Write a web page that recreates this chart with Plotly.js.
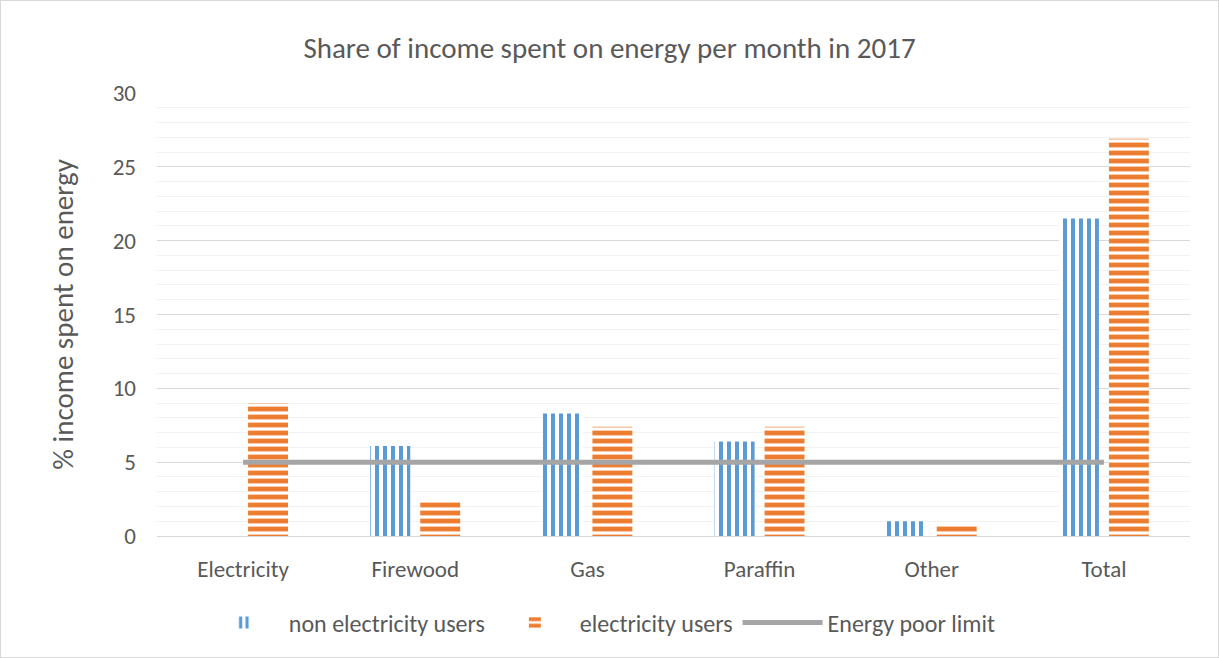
<!DOCTYPE html>
<html>
<head>
<meta charset="utf-8">
<script src="https://cdn.plot.ly/plotly-3.0.1.min.js"></script>
<style>
html,body{margin:0;padding:0;background:#fff;}
#chart{width:1219px;height:658px;border:1px solid #D9D9D9;box-sizing:border-box;}
</style>
</head>
<body>
<div id="chart"></div>
<script>
const categories = ["Electricity", "Firewood", "Gas", "Paraffin", "Other", "Total"];
const nonElectricityUsers = [0, 6.1, 8.3, 6.4, 1.0, 21.5];
const electricityUsers = [9.0, 2.4, 7.4, 7.4, 0.8, 26.9];
const energyPoorLimit = [5, 5, 5, 5, 5, 5];

const fontFam = "Carlito, Calibri, 'Noto Sans', 'Liberation Sans', sans-serif";
const textCol = "#595959";

const traces = [
  {
    type: "bar", name: "non electricity users", x: categories, y: nonElectricityUsers,
    marker: {color: "#5B9BD5", line: {width: 0},
      pattern: {shape: "|", size: 8, solidity: 0.5, fgcolor: "#5B9BD5", bgcolor: "#ffffff", fillmode: "replace"}}
  },
  {
    type: "bar", name: "electricity users", x: categories, y: electricityUsers,
    marker: {color: "#ED7D31", line: {width: 0},
      pattern: {shape: "-", size: 8, solidity: 0.6, fgcolor: "#ED7D31", bgcolor: "#ffffff", fillmode: "replace"}}
  },
  {
    type: "scatter", mode: "lines", name: "Energy poor limit", x: categories, y: energyPoorLimit,
    line: {color: "#A5A5A5", width: 5}
  }
];

const layout = {
  width: 1217, height: 656,
  margin: {l: 156, r: 28, t: 92, b: 121},
  paper_bgcolor: "#ffffff", plot_bgcolor: "#ffffff",
  font: {family: fontFam, color: textCol, size: 23},
  title: {text: "Share of income spent on energy per month in 2017", x: 0.5, xanchor: "center", y: 0.928, yanchor: "middle",
    font: {family: fontFam, size: 29, color: textCol, weight: 300}},
  barmode: "group", bargap: 0.42, bargroupgap: 0.2,
  xaxis: {showgrid: false, showline: true, linecolor: "#D9D9D9", linewidth: 1, ticks: "", ticklabelstandoff: 12,
    tickfont: {size: 23, color: textCol}},
  yaxis: {range: [0, 30], dtick: 5, showgrid: true, gridcolor: "#D9D9D9", gridwidth: 1, zeroline: false, showline: false,
    ticks: "", ticklen: 0, ticklabelstandoff: 20, tickfont: {size: 23, color: textCol},
    title: {text: "% income spent on energy", standoff: 30, font: {size: 29, color: textCol}},
    minor: {dtick: 1, showgrid: true, gridcolor: "#F2F2F2", gridwidth: 1}},
  legend: {orientation: "h", x: 0.0405, xanchor: "left", y: -0.196, yanchor: "middle", font: {size: 24, color: textCol},
    itemwidth: 80, traceorder: "normal"},
  showlegend: true
};

Plotly.newPlot("chart", traces, layout, {displayModeBar: false, staticPlot: true});
</script>
</body>
</html>
